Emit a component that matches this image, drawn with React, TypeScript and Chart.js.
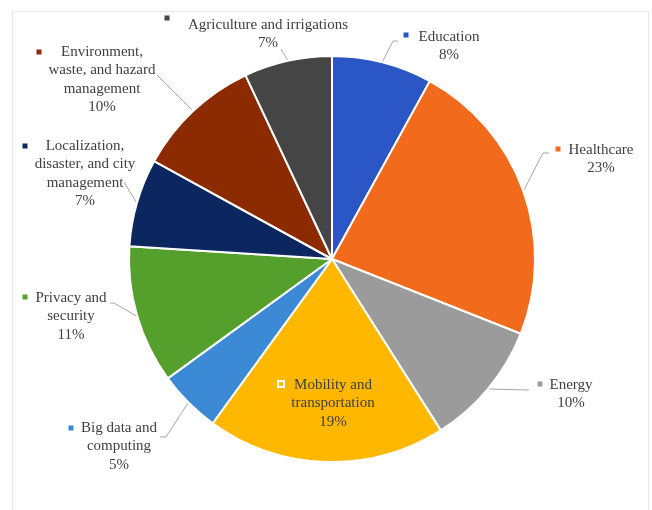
import React, { useEffect, useRef } from "react";
import { Chart, registerables } from "chart.js";

Chart.register(...registerables);

const categories = [
  "Education",
  "Healthcare",
  "Energy",
  "Mobility and transportation",
  "Big data and computing",
  "Privacy and security",
  "Localization, disaster, and city management",
  "Environment, waste, and hazard management",
  "Agriculture and irrigations",
];

const percents = [8, 23, 10, 19, 5, 11, 7, 10, 7];

const labelLines = [
  ["Education"],
  ["Healthcare"],
  ["Energy"],
  ["Mobility and", "transportation"],
  ["Big data and", "computing"],
  ["Privacy and", "security"],
  ["Localization,", "disaster, and city", "management"],
  ["Environment,", "waste, and hazard", "management"],
  ["Agriculture and irrigations"],
];

const colors = [
  "#2A56C6",
  "#F26A1B",
  "#9B9B9B",
  "#FFB700",
  "#3C89D6",
  "#55A02D",
  "#0C2660",
  "#8C2B02",
  "#454545",
];

// Layout (offsets from pie centre, px): text centre / first line, marker, leader path
const textPos = [
  [117, -222],
  [269, -109],
  [239, 126],
  [1, 126],
  [-213, 169],
  [-261, 39],
  [-247, -113],
  [-230, -207],
  [-64, -234],
];
const markerPos = [
  [74, -224],
  [226, -110],
  [208, 125],
  [-51, 125],
  [-261, 169],
  [-307, 38],
  [-307, -113],
  [-293, -207],
  [-165, -241],
];
const leaderPaths: number[][][] = [
  [[66, -218], [61, -218]],
  [[217, -106], [211, -106]],
  [[197, 131]],
  [],
  [[-172, 178], [-166, 178]],
  [[-222, 44], [-218, 44]],
  [[-208, -77]],
  [[-175, -184]],
  [[-51, -210]],
];

const LINE_H = 18.3;

const labelPlugin = {
  id: "sliceLabels",
  beforeDraw(chart: any) {
    const ctx = chart.ctx;
    ctx.save();
    ctx.strokeStyle = "#e8e8e8";
    ctx.lineWidth = 1;
    ctx.strokeRect(12.5, 11.5, 636, 520);
    ctx.restore();
  },
  afterDatasetsDraw(chart: any) {
    const ctx = chart.ctx;
    const meta = chart.getDatasetMeta(0);
    ctx.save();
    meta.data.forEach((arc: any, i: number) => {
      const { x, y, startAngle, endAngle, outerRadius } = arc.getProps(
        ["x", "y", "startAngle", "endAngle", "outerRadius"],
        true
      );
      const mid = (startAngle + endAngle) / 2;
      const path = leaderPaths[i];
      if (path.length) {
        ctx.strokeStyle = "#a6a6a6";
        ctx.lineWidth = 1;
        ctx.beginPath();
        ctx.moveTo(x + path[0][0], y + path[0][1]);
        for (let k = 1; k < path.length; k++) ctx.lineTo(x + path[k][0], y + path[k][1]);
        ctx.lineTo(x + Math.cos(mid) * (outerRadius + 1), y + Math.sin(mid) * (outerRadius + 1));
        ctx.stroke();
      }
      ctx.font = '15px "Liberation Serif", "Times New Roman", serif';
      ctx.fillStyle = "#404040";
      ctx.textAlign = "center";
      ctx.textBaseline = "middle";
      const lines = [...labelLines[i], percents[i] + "%"];
      lines.forEach((t, k) => {
        ctx.fillText(t, x + textPos[i][0], y + textPos[i][1] + k * LINE_H);
      });
      const mx = x + markerPos[i][0];
      const my = y + markerPos[i][1];
      if (i === 3) {
        ctx.fillStyle = "#ffffff";
        ctx.fillRect(mx - 4, my - 4, 8, 8);
        ctx.fillStyle = colors[i];
        ctx.fillRect(mx - 2, my - 2, 4, 4);
      } else {
        ctx.fillStyle = colors[i];
        ctx.fillRect(mx - 2.5, my - 2.5, 5, 5);
      }
    });
    ctx.restore();
  },
};

export default function App() {
  const ref = useRef<HTMLCanvasElement>(null);
  useEffect(() => {
    const chart = new Chart(ref.current as HTMLCanvasElement, {
      type: "pie",
      data: {
        labels: categories,
        datasets: [
          {
            data: percents,
            backgroundColor: colors,
            borderColor: "#ffffff",
            borderWidth: 2,
          },
        ],
      },
      options: {
        animation: false,
        responsive: false,
        devicePixelRatio: 1,
        layout: { padding: { left: 128, right: 116, top: 55, bottom: 47 } },
        plugins: { legend: { display: false }, tooltip: { enabled: false } },
      },
      plugins: [labelPlugin],
    });
    return () => chart.destroy();
  }, []);
  return (
    <div style={{ position: "fixed", left: 0, top: 0, width: 652, height: 510, background: "#fff" }}>
      <canvas ref={ref} width={652} height={510} />
    </div>
  );
}
